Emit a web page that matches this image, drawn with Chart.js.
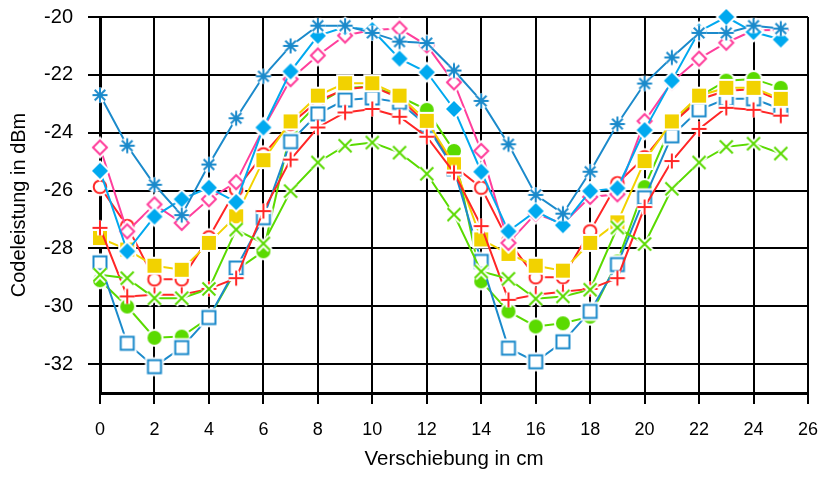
<!DOCTYPE html>
<html>
<head>
<meta charset="utf-8">
<script src="https://cdn.jsdelivr.net/npm/chart.js@4/dist/chart.umd.min.js"></script>
<style>
    html, body { margin: 0; padding: 0; background: #fff; }
    canvas { display: block; }
</style>
</head>
<body>
<canvas id="chart" width="823" height="479"></canvas>
<script>
// Verschiebung in cm (x positions)
const xValues = [0, 1, 2, 3, 4, 5, 6, 7, 8, 9, 10, 11, 12, 13, 14, 15, 16, 17, 18, 19, 20, 21, 22, 23, 24, 25];
const xTicks = [0, 2, 4, 6, 8, 10, 12, 14, 16, 18, 20, 22, 24, 26];
const yTicks = [-32, -30, -28, -26, -24, -22, -20];

// Codeleistung in dBm, one list per curve
const starSeries = [-22.7, -24.45, -25.8, -26.85, -25.1, -23.5, -22.05, -21.0, -20.3, -20.3, -20.55, -20.85, -20.9, -21.85, -22.9, -24.4, -26.15, -26.8, -25.35, -23.7, -22.3, -21.4, -20.55, -20.55, -20.3, -20.4];
const diamondSeries = [-25.32, -28.1, -26.9, -26.3, -25.9, -26.4, -23.82, -21.88, -20.65, -20.35, -20.45, -21.44, -21.91, -23.18, -25.35, -27.41, -26.71, -27.2, -26.02, -25.92, -23.91, -22.2, -20.5, -20.0, -20.52, -20.78];
const openDiamondSeries = [-24.51, -27.41, -26.48, -27.12, -26.3, -25.71, -23.85, -22.15, -21.33, -20.64, -20.45, -20.4, -20.98, -22.26, -24.63, -27.81, -26.8, -27.15, -26.22, -26.13, -23.6, -22.25, -21.44, -20.89, -20.46, -20.45];
const crossSeries = [-28.91, -29.03, -29.72, -29.72, -29.4, -27.35, -27.83, -26.02, -25.03, -24.45, -24.34, -24.69, -25.42, -26.83, -28.8, -29.05, -29.74, -29.66, -29.43, -27.28, -27.85, -25.94, -25.03, -24.49, -24.38, -24.72];
const plusSeries = [-27.29, -29.66, -29.6, -29.6, -29.4, -29.03, -26.71, -24.93, -23.82, -23.3, -23.18, -23.45, -24.14, -25.38, -27.23, -29.78, -29.6, -29.5, -29.4, -29.03, -26.57, -24.98, -23.87, -23.14, -23.21, -23.41];
const squareSeries = [-27.64, -28.04, -28.6, -28.74, -27.81, -26.89, -24.95, -23.61, -22.72, -22.29, -22.29, -22.72, -23.59, -25.09, -27.69, -28.19, -28.6, -28.77, -27.81, -27.1, -24.98, -23.61, -22.72, -22.45, -22.45, -22.83];
const openSquareSeries = [-28.5, -31.28, -32.09, -31.43, -30.39, -28.68, -26.94, -24.31, -23.35, -22.87, -22.8, -22.95, -23.75, -25.25, -28.45, -31.45, -31.92, -31.23, -30.18, -28.56, -26.25, -24.11, -23.21, -22.83, -22.83, -23.18];
const openCircleSeries = [-25.87, -27.23, -29.07, -29.07, -27.62, -25.96, -24.75, -23.7, -22.9, -22.5, -22.4, -22.8, -23.7, -25.15, -25.9, -27.75, -29.0, -29.0, -27.41, -25.75, -24.85, -23.7, -22.85, -22.55, -22.5, -22.9];
const circleSeries = [-29.1, -30.01, -31.09, -31.05, -30.4, -28.75, -28.1, -23.96, -23.0, -22.45, -22.4, -22.75, -23.21, -24.63, -29.14, -30.18, -30.7, -30.59, -30.36, -28.45, -25.88, -23.7, -22.75, -22.2, -22.14, -22.45];

const FONT = "'Liberation Sans', Arial, sans-serif";

// markers with a white halo, like the original plot
function marker(kind, color) {
    const size = 26;
    const c = document.createElement('canvas');
    c.width = size;
    c.height = size;
    const g = c.getContext('2d');
    g.translate(size / 2, size / 2);
    g.beginPath();
    if (kind === 'star') {
        for (let i = 0; i < 4; i++) {
            const a = i * Math.PI / 4;
            g.moveTo(-7.5 * Math.cos(a), -7.5 * Math.sin(a));
            g.lineTo(7.5 * Math.cos(a), 7.5 * Math.sin(a));
        }
    } else if (kind === 'diamond') {
        g.moveTo(0, -8); g.lineTo(8, 0); g.lineTo(0, 8); g.lineTo(-8, 0); g.closePath();
    } else if (kind === 'odiamond') {
        g.moveTo(0, -7); g.lineTo(7, 0); g.lineTo(0, 7); g.lineTo(-7, 0); g.closePath();
    } else if (kind === 'ocircle') {
        g.arc(0, 0, 6.3, 0, Math.PI * 2);
    } else if (kind === 'circle') {
        g.arc(0, 0, 7, 0, Math.PI * 2);
    } else if (kind === 'plus') {
        g.moveTo(-7.5, 0); g.lineTo(7.5, 0); g.moveTo(0, -7.5); g.lineTo(0, 7.5);
    } else if (kind === 'cross') {
        g.moveTo(-6.5, -6.5); g.lineTo(6.5, 6.5); g.moveTo(6.5, -6.5); g.lineTo(-6.5, 6.5);
    } else if (kind === 'square') {
        g.rect(-7, -7, 14, 14);
    } else if (kind === 'osquare') {
        g.rect(-6.5, -6.5, 13, 13);
    }
    const filled = ['diamond', 'square', 'circle'].includes(kind);
    const open = ['odiamond', 'ocircle', 'osquare'].includes(kind);
    g.strokeStyle = '#fff';
    g.lineWidth = filled ? 4 : 6;
    g.stroke();
    if (filled) {
        g.fillStyle = color;
        g.fill();
    } else if (open) {
        g.fillStyle = '#fff';
        g.fill();
        g.strokeStyle = color;
        g.lineWidth = 2;
        g.stroke();
    } else {
        g.strokeStyle = color;
        g.lineWidth = 2;
        g.stroke();
    }
    return c;
}

function series(values, kind, color) {
    return {
        data: values.map((v, i) => ({ x: xValues[i], y: v })),
        borderColor: color,
        backgroundColor: color,
        borderWidth: 2,
        pointStyle: marker(kind, color),
        pointRadius: 7,
        tension: 0,
        clip: false
    };
}

// first dataset is drawn on top
const datasets = [
    series(starSeries, 'star', '#1b8acb'),
    series(diamondSeries, 'diamond', '#00a9ef'),
    series(openDiamondSeries, 'odiamond', '#ff3f9c'),
    series(crossSeries, 'cross', '#5ada00'),
    series(plusSeries, 'plus', '#ff2626'),
    series(squareSeries, 'square', '#f2d200'),
    series(openSquareSeries, 'osquare', '#1b8acb'),
    series(openCircleSeries, 'ocircle', '#ff2626'),
    series(circleSeries, 'circle', '#5ada00')
];

new Chart(document.getElementById('chart'), {
    type: 'line',
    data: { datasets },
    options: {
        responsive: false,
        animation: false,
        layout: { padding: { top: 17, right: 15, left: 0, bottom: 0 } },
        plugins: {
            legend: { display: false },
            tooltip: { enabled: false }
        },
        scales: {
            x: {
                type: 'linear',
                min: 0,
                max: 26,
                afterBuildTicks: (scale) => { scale.ticks = xTicks.map(v => ({ value: v })); },
                afterFit: (scale) => {
                    scale.height = 86;
                    scale.paddingLeft = 0;
                    scale.paddingRight = 0;
                },
                grid: { color: '#000', lineWidth: 2, tickLength: 11 },
                border: { color: '#000', width: 3 },
                ticks: { color: '#000', padding: 15, maxRotation: 0, font: { family: FONT, size: 18 } },
                title: {
                    display: true,
                    text: 'Verschiebung in cm',
                    color: '#000',
                    font: { family: FONT, size: 20.5 },
                    padding: { top: 0, bottom: 7 }
                }
            },
            y: {
                type: 'linear',
                min: -33,
                max: -20,
                afterBuildTicks: (scale) => { scale.ticks = yTicks.map(v => ({ value: v })); },
                afterFit: (scale) => {
                    scale.width = 100;
                    scale.paddingTop = 0;
                    scale.paddingBottom = 0;
                },
                grid: { color: '#000', lineWidth: 2, tickLength: 12 },
                border: { color: '#000', width: 3 },
                ticks: { color: '#000', padding: 15, font: { family: FONT, size: 20 } },
                title: {
                    display: true,
                    text: 'Codeleistung in dBm',
                    color: '#000',
                    font: { family: FONT, size: 20 },
                    padding: { top: 7, bottom: 0 }
                }
            }
        }
    }
});
</script>
</body>
</html>
